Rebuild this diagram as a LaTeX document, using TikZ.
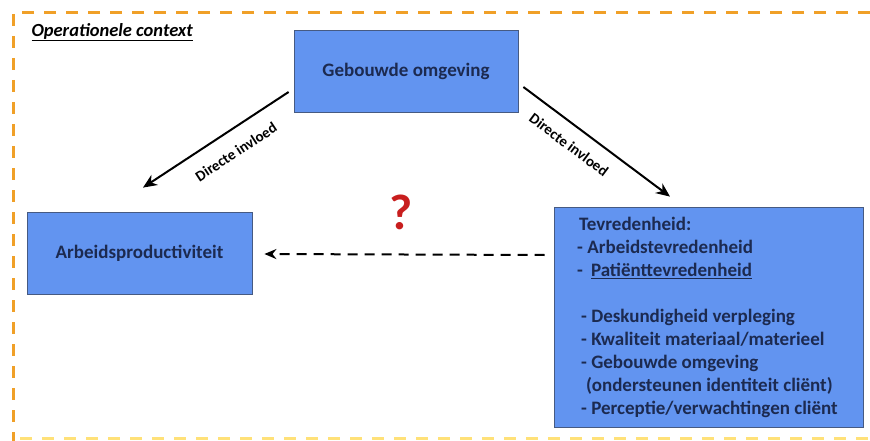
\documentclass[tikz,border=0pt]{standalone}
\usepackage{fontspec}
\setmainfont{Carlito}
\usetikzlibrary{arrows.meta}
\definecolor{boxfill}{RGB}{98,148,240}
\definecolor{boxline}{RGB}{70,90,130}
\definecolor{txtblue}{RGB}{28,42,80}
\definecolor{frameorange}{RGB}{240,160,40}
\definecolor{frameyellow}{RGB}{255,225,120}
\definecolor{qred}{RGB}{200,30,30}
\tikzset{
  bluebox/.style={draw=boxline, line width=0.8pt, fill=boxfill, rectangle, inner sep=0pt,
    font=\fontsize{19}{22}\selectfont\bfseries, text=txtblue},
  infl/.style={line width=2pt, -{Stealth[length=14pt,width=12pt]}},
  lbl/.style={font=\fontsize{15}{17}\selectfont\bfseries, text=black},
  frame/.style={line width=3pt, dash pattern=on 12pt off 10pt}
}
\begin{document}
\begin{tikzpicture}[x=1pt,y=-1pt]
\useasboundingbox (0,0) rectangle (870,441);
% frame
\draw[frame, draw=frameorange] (870,13) -- (13,13) -- (13,441);
\draw[frame, draw=frameyellow] (20,438) -- (870,438);
\node[anchor=west, font=\fontsize{18.5}{20}\selectfont\bfseries\itshape] (title) at (28,32) {\underline{Operationele context}};
% boxes
\node[bluebox, minimum width=224pt, minimum height=82pt] (geb) at (406,71) {Gebouwde omgeving};
\node[bluebox, minimum width=225pt, minimum height=82pt] (arb) at (139.5,253) {Arbeidsproductiviteit};
\node[bluebox, minimum width=309pt, minimum height=220pt] (tev) at (708.5,317) {};
\node[anchor=north west, align=left, inner sep=0pt, font=\fontsize{19}{23}\selectfont\bfseries, text=txtblue] (tevtxt) at (577,217) {%
\hspace{2pt}Tevredenheid:\\
- Arbeidstevredenheid\\
-\hspace{8pt}\underline{Patiënttevredenheid}\\[23pt]
\hspace{4pt}- Deskundigheid verpleging\\
\hspace{4pt}- Kwaliteit materiaal/materieel\\
\hspace{4pt}- Gebouwde omgeving\\
\hspace{9pt}(ondersteunen identiteit cliënt)\\
\hspace{4pt}- Perceptie/verwachtingen cliënt};
% arrows
\draw[infl] ([shift={(-5,21)}]geb.west) -- ([shift={(3.5,-24)}]arb.north);
\draw[infl] ([shift={(5,16)}]geb.east) -- ([shift={(-38.5,-10)}]tev.north);
\draw[line width=2pt, dash pattern=on 10pt off 7pt, -{Stealth[length=12pt,width=10pt]}] ([shift={(-9,-62)}]tev.west) -- ([shift={(12,1)}]arb.east);
% labels
\node[lbl, rotate=33.3] (l1) at (236,152) {Directe invloed};
\node[lbl, rotate=-36.8] (l2) at (569,145) {Directe invloed};
\node[font=\fontsize{50}{52}\selectfont\bfseries, text=qred] (q) at (401,212) {?};
\end{tikzpicture}
\end{document}
